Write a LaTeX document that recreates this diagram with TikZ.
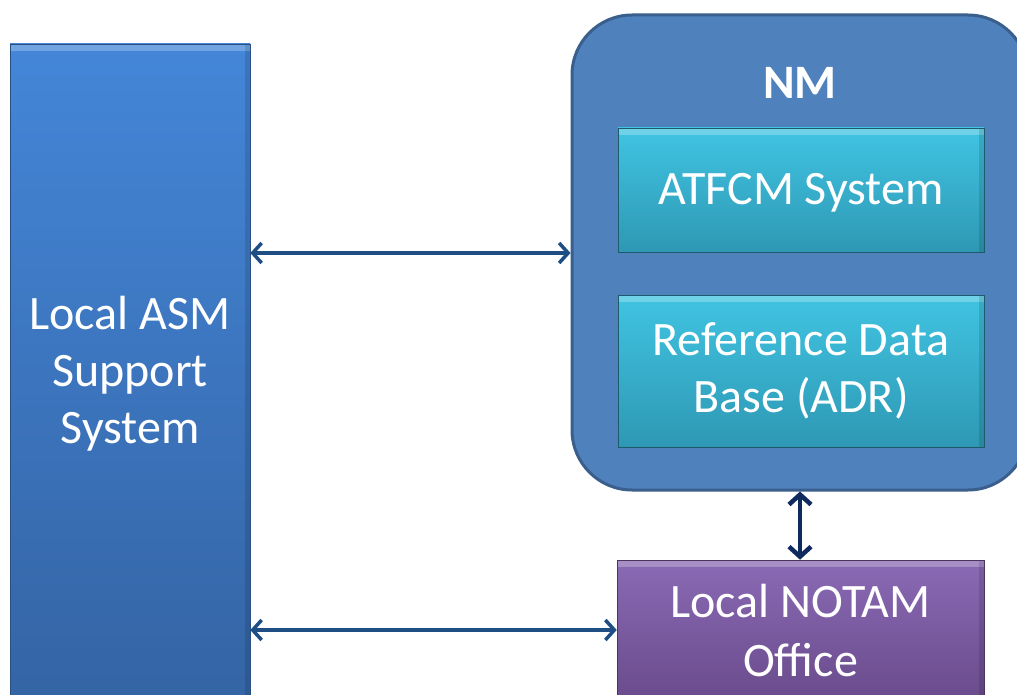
\documentclass[tikz,border=0pt]{standalone}
\usepackage{fontspec}
\setmainfont{Carlito}
\usetikzlibrary{arrows.meta}
\definecolor{lefttop}{HTML}{4486D8}
\definecolor{leftbot}{HTML}{3464A4}
\definecolor{nmfill}{HTML}{4F81BD}
\definecolor{nmdraw}{HTML}{3A5F8C}
\definecolor{cyantop}{HTML}{40C4E2}
\definecolor{cyanbot}{HTML}{2E98B4}
\definecolor{purtop}{HTML}{8A6AB4}
\definecolor{purbot}{HTML}{6A4B8C}
\definecolor{arrowc}{HTML}{1F4E85}
\definecolor{arrowv}{HTML}{0F2A5E}
\tikzset{
  bevel/.style={path picture={
      \fill[white,opacity=0.25] (path picture bounding box.north west) rectangle ([yshift=-7pt]path picture bounding box.north east);
      \fill[black,opacity=0.12] (path picture bounding box.north east) rectangle ([xshift=-5pt]path picture bounding box.south east);}},
  bluebox/.style={rectangle, bevel, top color=lefttop, bottom color=leftbot, draw=leftbot!80!black, line width=0.6pt,
      text=white, align=center, font=\fontsize{48}{57}\selectfont, inner sep=0pt},
  cyanbox/.style={rectangle, bevel, top color=cyantop, bottom color=cyanbot, draw=cyanbot!60!black, line width=0.8pt,
      text=white, align=center, font=\fontsize{48}{57}\selectfont, inner sep=0pt, minimum width=366pt},
  purbox/.style={rectangle, bevel, top color=purtop, bottom color=purbot, draw=purbot!70!black, line width=0.6pt,
      text=white, align=center, font=\fontsize{48}{59}\selectfont, inner sep=0pt, minimum width=367pt},
  nmbox/.style={rectangle, rounded corners=60pt, fill=nmfill, draw=nmdraw, line width=3pt, inner sep=0pt},
  conn/.style={draw=arrowc, line width=3.5pt, {Straight Barb[length=9pt,width=20pt,line width=3.5pt]}-{Straight Barb[length=9pt,width=20pt,line width=3.5pt]}},
  connv/.style={draw=arrowv, line width=4.5pt, {Straight Barb[length=10pt,width=22pt,line width=4.5pt]}-{Straight Barb[length=10pt,width=22pt,line width=4.5pt]}}
}
\begin{document}
\begin{tikzpicture}[x=1pt,y=-1pt]
\useasboundingbox (0,0) rectangle (1017,695);
\clip (0,0) rectangle (1017,695);
\fill[white] (0,0) rectangle (1017,695);
\node[bluebox, minimum width=240pt, minimum height=660pt] (asm) at (130,374) {Local ASM\\Support\\System};
\node[nmbox, minimum width=456pt, minimum height=475pt] (nm) at (800,252.5) {};
\node[text=white, font=\fontsize{48}{50}\selectfont\bfseries] (nmlabel) at (800,83) {NM};
\node[cyanbox, minimum height=124pt, text height=40pt, text depth=10pt] (atfcm) at (801,190) {ATFCM System};
\node[cyanbox, minimum height=152pt] (rdb) at (801,371) {Reference Data\\Base (ADR)};
\node[purbox, minimum height=140pt] (notam) at (800.5,630) {Local NOTAM\\Office};
\draw[conn] (asm.east |- 0,253) -- (nm.west |- 0,253);
\draw[conn] (asm.east |- 0,630) -- (notam.west);
\draw[connv] (notam.north -| 800,0) -- (nm.south -| 800,0);
\end{tikzpicture}
\end{document}
